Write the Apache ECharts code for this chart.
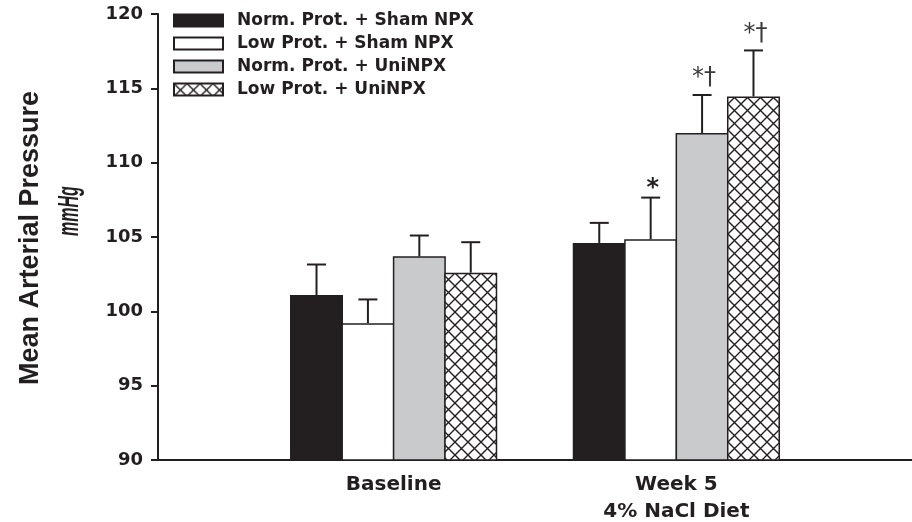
<!DOCTYPE html>
<html>
<head>
<meta charset="utf-8">
<script src="https://cdn.jsdelivr.net/npm/echarts@6/dist/echarts.min.js"></script>
<style>html,body{margin:0;padding:0;background:#fff}#chart{width:912px;height:522px}</style>
</head>
<body>
<div id="chart"></div>
<script>
// ---- data ----
const groups = ['Baseline', 'Week 5\n4% NaCl Diet'];
const seriesNames = ['Norm. Prot. + Sham NPX', 'Low Prot. + Sham NPX', 'Norm. Prot. + UniNPX', 'Low Prot. + UniNPX'];
const normSham = [101.1, 104.6];
const lowSham = [99.2, 104.85];
const normUni = [103.7, 112.0];
const lowUni = [102.6, 114.45];
const normShamErr = [2.05, 1.35];
const lowShamErr = [1.6, 2.8];
const normUniErr = [1.4, 2.55];
const lowUniErr = [2.05, 3.1];
const normShamMark = ['', ''];
const lowShamMark = ['', '*'];
const normUniMark = ['', '*\u2020'];
const lowUniMark = ['', '*\u2020'];
const yMin = 90, yMax = 120, yStep = 5;

// ---- layout helpers ----
const slotCount = 8;
const slotOf = [2, 5];
const barW = 53;
const gapPct = -3;
const step = barW * (1 + gapPct / 100);
const ink = '#231f20';

const axisCats = [];
for (let i = 0; i < slotCount; i++) axisCats.push('');
groups.forEach((g, j) => { axisCats[slotOf[j]] = g; });

function pad(vals) {
  const out = [];
  for (let i = 0; i < slotCount; i++) out.push(null);
  vals.forEach((v, j) => { out[slotOf[j]] = v; });
  return out;
}

// hatch pattern
const pc = document.createElement('canvas');
const P = 13;
pc.width = P; pc.height = P;
const ctx = pc.getContext('2d');
ctx.fillStyle = '#fff'; ctx.fillRect(0, 0, P, P);
ctx.strokeStyle = ink; ctx.lineWidth = 1.4;
ctx.beginPath();
ctx.moveTo(-2, -2); ctx.lineTo(P + 2, P + 2);
ctx.moveTo(P + 2, -2); ctx.lineTo(-2, P + 2);
ctx.stroke();

const means = [normSham, lowSham, normUni, lowUni];
const errs = [normShamErr, lowShamErr, normUniErr, lowUniErr];
const marks = [normShamMark, lowShamMark, normUniMark, lowUniMark];
const fills = [ink, '#ffffff', '#c9cacc', { image: pc, repeat: 'repeat' }];

const series = [];
means.forEach((m, k) => {
  series.push({
    name: seriesNames[k],
    type: 'bar',
    data: pad(m),
    barWidth: barW,
    barGap: gapPct + '%',
    itemStyle: { color: fills[k], borderColor: ink, borderWidth: 1.5 },
    z: 2
  });
});
means.forEach((m, k) => {
  series.push({
    name: 'err' + k,
    type: 'custom',
    z: 5,
    data: m.map((v, j) => [slotOf[j], v, v + errs[k][j]]),
    encode: { x: 0, y: [1, 2] },
    renderItem: function (params, api) {
      const off = (k - 1.5) * step;
      const base = api.coord([api.value(0), api.value(1)]);
      const top = api.coord([api.value(0), api.value(2)]);
      const x = base[0] + off;
      const children = [
        { type: 'line', shape: { x1: x, y1: base[1], x2: x, y2: top[1] }, style: { stroke: ink, lineWidth: 2 } },
        { type: 'line', shape: { x1: x - 9.5, y1: top[1], x2: x + 9.5, y2: top[1] }, style: { stroke: ink, lineWidth: 2 } }
      ];
      const t = marks[k][params.dataIndex];
      if (t) {
        const single = t.length === 1;
        children.push({
          type: 'text',
          style: { text: t, x: x + 2, y: top[1] - (single ? 9 : 17), align: 'center', verticalAlign: 'middle',
                   font: (single ? 'bold ' : '') + '24px "DejaVu Sans"', fill: single ? ink : '#3a3a3a' }
        });
      }
      return { type: 'group', children: children };
    }
  });
});

const chart = echarts.init(document.getElementById('chart'), null, { renderer: 'canvas' });
chart.setOption({
  animation: false,
  backgroundColor: '#ffffff',
  grid: { left: 158, right: 0, top: 14, bottom: 62, containLabel: false, outerBoundsMode: 'none' },
  legend: {
    data: seriesNames,
    orient: 'vertical',
    left: 173, top: 12, padding: 0,
    itemWidth: 49, itemHeight: 12, itemGap: 6,
    icon: 'rect',
    textStyle: { fontFamily: 'DejaVu Sans', fontWeight: 'bold', fontSize: 17, color: ink, padding: [0, 0, 0, 9] }
  },
  xAxis: {
    type: 'category',
    data: axisCats,
    axisTick: { show: false },
    axisLine: { lineStyle: { color: ink, width: 2 } },
    axisLabel: { interval: 0, margin: 11, fontFamily: 'DejaVu Sans', fontWeight: 'bold', fontSize: 20, lineHeight: 27, color: ink }
  },
  yAxis: {
    type: 'value',
    min: yMin, max: yMax, interval: yStep,
    splitLine: { show: false },
    axisLine: { show: true, lineStyle: { color: ink, width: 2 } },
    axisTick: { show: true, length: 7, lineStyle: { color: ink, width: 2 } },
    axisLabel: { margin: 15, fontFamily: 'DejaVu Sans', fontWeight: 'bold', fontSize: 18, color: ink }
  },
  graphic: [
    { type: 'text', x: 31, y: 238, rotation: Math.PI / 2,
      style: { text: 'Mean Arterial Pressure', align: 'center', verticalAlign: 'middle',
               font: 'bold 27px "Liberation Sans"', fill: ink } },
    { type: 'text', x: 70, y: 211, rotation: Math.PI / 2, scaleY: 1.8,
      style: { text: 'mmHg', align: 'center', verticalAlign: 'middle',
               font: 'italic bold 16px "Liberation Sans"', fill: ink } }
  ],
  series: series
});
</script>
</body>
</html>
